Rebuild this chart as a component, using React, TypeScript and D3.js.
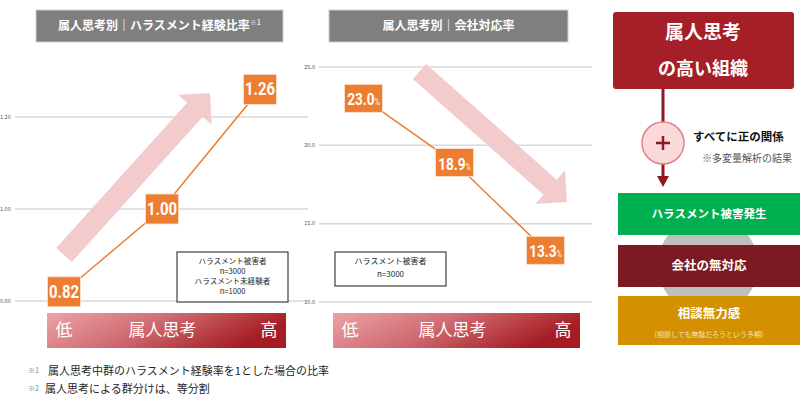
import React from "react";
import * as d3 from "d3";

// chart data
const groups = ["低", "中", "高"];
const ratioValues = [0.82, 1.0, 1.26];
const ratioTicks = [0.8, 1.0, 1.2];
const responseValues = [23.0, 18.9, 13.3];
const responseTicks = [10, 15, 20, 25];

// trend arrows: [category position, value]
const ratioArrow = [[0, 0.9], [1.49, 1.252]];
const responseArrow = [[0.615, 24.71], [2.236, 16.38]];

const ratioNotes = ["ハラスメント被害者", "n=3000", "ハラスメント未経験者", "n=1000"];
const responseNotes = ["ハラスメント被害者", "n=3000"];
const footnotes = [
  ["※1", "属人思考中群のハラスメント経験率を1とした場合の比率"],
  ["※2", "属人思考による群分けは、等分割"],
];
const chainLabels = ["ハラスメント被害発生", "会社の無対応", "相談無力感"];
const chainColors = ["#00b050", "#7b1a20", "#d39000"];

const FONT = "'Noto Sans CJK JP', 'Noto Sans', sans-serif";
const ORANGE = "#ed7d31";
const ARROW = "#f4cbcd";

function arrowPath(x0: number, y0: number, x1: number, y1: number, shaft: number, headW: number, headLen: number) {
  const dx = x1 - x0, dy = y1 - y0, len = Math.hypot(dx, dy);
  const ux = dx / len, uy = dy / len, nx = -uy, ny = ux;
  const bx = x1 - ux * headLen, by = y1 - uy * headLen;
  const pts: [number, number][] = [
    [x0 + (nx * shaft) / 2, y0 + (ny * shaft) / 2],
    [bx + (nx * shaft) / 2, by + (ny * shaft) / 2],
    [bx + (nx * headW) / 2, by + (ny * headW) / 2],
    [x1, y1],
    [bx - (nx * headW) / 2, by - (ny * headW) / 2],
    [bx - (nx * shaft) / 2, by - (ny * shaft) / 2],
    [x0 - (nx * shaft) / 2, y0 - (ny * shaft) / 2],
  ];
  return d3.line()(pts) + "Z";
}

function TitleBar({ x, w, text, sup }: any) {
  return (
    <g>
      <rect x={x} y={10} width={w} height={32} fill="#7f7f7f" stroke="#cfcfcf" strokeWidth={1} />
      <text x={x + w / 2} y={27} textAnchor="middle" dominantBaseline="middle" fill="#fff" fontSize={12} fontWeight="bold" fontFamily={FONT}>
        {text}
        {sup && <tspan fontSize={7} dy={-4} fill="#e6e6e6">{sup}</tspan>}
      </text>
    </g>
  );
}

function GradientBar({ x, w, id }: any) {
  return (
    <g fontFamily={FONT} fill="#fff">
      <rect x={x} y={313} width={w} height={35} fill={`url(#${id})`} />
      <text x={x + 17} y={331} fontSize={17} textAnchor="middle" dominantBaseline="middle">低</text>
      <text x={x + w / 2 - 4} y={331} fontSize={17} textAnchor="middle" dominantBaseline="middle">属人思考</text>
      <text x={x + w - 17} y={331} fontSize={17} textAnchor="middle" dominantBaseline="middle">高</text>
    </g>
  );
}

function NoteBox({ x, y, w, h, lines, fs, lh, pad }: any) {
  return (
    <g>
      <rect x={x} y={y} width={w} height={h} fill="#fff" stroke="#404040" strokeWidth={1.2} />
      {lines.map((t: string, i: number) => (
        <text key={i} x={x + w / 2} y={y + pad + lh * i + lh / 2} textAnchor="middle" dominantBaseline="middle" fontSize={fs} fill="#262626" fontFamily={FONT}>
          {t}
        </text>
      ))}
    </g>
  );
}

export default function App() {
  // left chart scales
  const xL = d3.scaleBand().domain(groups).range([15, 309]);
  const yL = d3.scaleLinear().domain([0.8, 1.2]).range([301, 117]);
  const posL = (i: number) => xL.range()[0] + xL.step() * (i + 0.5);
  // right chart scales
  const xR = d3.scaleBand().domain(groups).range([318, 591]);
  const yR = d3.scaleLinear().domain([10, 25]).range([302, 67]);
  const posR = (i: number) => xR.range()[0] + xR.step() * (i + 0.5);

  const lineL = d3.line<number>().x((_, i) => posL(i)).y((d) => yL(d));
  const lineR = d3.line<number>().x((_, i) => posR(i)).y((d) => yR(d));

  const arrowL = arrowPath(posL(ratioArrow[0][0]), yL(ratioArrow[0][1]), posL(ratioArrow[1][0]), yL(ratioArrow[1][1]), 21, 45, 22.5);
  const arrowR = arrowPath(posR(responseArrow[0][0]), yR(responseArrow[0][1]), posR(responseArrow[1][0]), yR(responseArrow[1][1]), 20, 45, 22.5);

  return (
    <svg width={800} height={400} style={{ position: "absolute", left: 0, top: 0, background: "#fff" }} fontFamily={FONT}>
      <defs>
        <linearGradient id="gradL" x1="0" y1="0" x2="1" y2="0.3">
          <stop offset="0" stopColor="#eba4a8" />
          <stop offset="0.5" stopColor="#cf6a70" />
          <stop offset="1" stopColor="#a51c23" />
        </linearGradient>
        <linearGradient id="gradR" x1="0" y1="0" x2="1" y2="0.3">
          <stop offset="0" stopColor="#eba4a8" />
          <stop offset="0.5" stopColor="#cf6a70" />
          <stop offset="1" stopColor="#a51c23" />
        </linearGradient>
      </defs>

      {/* left chart */}
      <TitleBar x={36} w={247} text="属人思考別｜ハラスメント経験比率" sup="※1" />
      {ratioTicks.map((t) => (
        <g key={t}>
          <line x1={15} x2={308} y1={yL(t)} y2={yL(t)} stroke="#d9d9d9" strokeWidth={1.5} />
          <text x={0} y={yL(t)} dominantBaseline="middle" fontSize={5.5} fill="#595959">{t.toFixed(2)}</text>
        </g>
      ))}
      <path d={arrowL} fill={ARROW} />
      <path d={lineL(ratioValues) || ""} fill="none" stroke={ORANGE} strokeWidth={1.5} />
      {ratioValues.map((v, i) => (
        <g key={i}>
          <rect x={posL(i) - 16.5} y={yL(v) - 15} width={33} height={30} fill={ORANGE} stroke="#fbe3d3" strokeWidth={0.8} />
          <text transform={`translate(${posL(i)},${yL(v) + 1}) scale(0.83,1)`} textAnchor="middle" dominantBaseline="middle" fill="#fff" fontSize={18} fontWeight="bold" fontFamily="Roboto, sans-serif">
            {v.toFixed(2)}
          </text>
        </g>
      ))}
      <NoteBox x={177} y={252} w={111} h={50} lines={ratioNotes} fs={7.6} lh={10} pad={5} />
      <GradientBar x={47} w={239} id="gradL" />

      {/* right chart */}
      <TitleBar x={329} w={239} text="属人思考別｜会社対応率" />
      {responseTicks.map((t) => (
        <g key={t}>
          <line x1={319} x2={592} y1={yR(t)} y2={yR(t)} stroke="#d9d9d9" strokeWidth={1.5} />
          <text x={315} y={yR(t)} textAnchor="end" dominantBaseline="middle" fontSize={5.5} fill="#595959">{t.toFixed(1)}</text>
        </g>
      ))}
      <path d={arrowR} fill={ARROW} />
      <path d={lineR(responseValues) || ""} fill="none" stroke={ORANGE} strokeWidth={1.5} />
      {responseValues.map((v, i) => (
        <g key={i}>
          <rect x={posR(i) - 19} y={yR(v) - 14} width={38} height={28} fill={ORANGE} stroke="#fbe3d3" strokeWidth={0.8} />
          <text transform={`translate(${posR(i)},${yR(v) + 7}) scale(0.8,1)`} textAnchor="middle" fill="#fff" fontSize={17} fontWeight="bold" fontFamily="Roboto, sans-serif">
            {v.toFixed(1)}
            <tspan fontSize={9} fontWeight="normal">%</tspan>
          </text>
        </g>
      ))}
      <NoteBox x={335} y={252} w={111} h={34} lines={responseNotes} fs={8} lh={12.5} pad={4} />
      <GradientBar x={333} w={247} id="gradR" />

      {/* footnotes */}
      {footnotes.map(([mark, text], i) => (
        <g key={i}>
          <text x={28} y={371 + i * 18} fontSize={7} fill="#7f7f7f" dominantBaseline="middle">{mark}</text>
          <text x={i === 0 ? 48 : 45} y={372 + i * 18} fontSize={11} fill="#262626" dominantBaseline="middle">{text}</text>
        </g>
      ))}

      {/* right panel */}
      <rect x={613} y={12} width={181} height={77} rx={3} fill="#a51f28" />
      <text x={703} y={34} textAnchor="middle" dominantBaseline="middle" fill="#fff" fontSize={19} fontWeight="bold">属人思考</text>
      <text x={703} y={70} textAnchor="middle" dominantBaseline="middle" fill="#fff" fontSize={18} fontWeight="bold">の高い組織</text>
      <line x1={663} x2={663} y1={89} y2={178} stroke="#8b1a22" strokeWidth={3} />
      <path d="M657,176 L669,176 L663,187 Z" fill="#8b1a22" />
      <circle cx={663} cy={143} r={21} fill="#f9d9da" stroke="#e0828a" strokeWidth={1.5} />
      <path d="M656,143 H670 M663,136 V150" stroke="#8b1a22" strokeWidth={2.5} />
      <text x={693} y={138} dominantBaseline="middle" fill="#111" fontSize={11.5} fontWeight="bold">すべてに正の関係</text>
      <text x={702} y={159} dominantBaseline="middle" fill="#555" fontSize={10}>※多変量解析の結果</text>

      <circle cx={708} cy={265} r={50} fill="#bfbfbf" />
      {chainLabels.map((t, i) => {
        const y0 = [193, 245, 296][i];
        const h = [42, 42, 49][i];
        return (
          <g key={t}>
            <rect x={618} y={y0} width={182} height={h} fill={chainColors[i]} />
            <text x={709} y={i === 2 ? 315 : y0 + h / 2 + 1} textAnchor="middle" dominantBaseline="middle" fill="#fff" fontSize={i === 0 ? 11.5 : 12.5} fontWeight="bold">
              {t}
            </text>
          </g>
        );
      })}
      <text x={709} y={335} textAnchor="middle" dominantBaseline="middle" fill="#f6e3bd" fontSize={7}>(相談しても無駄だろうという予期)</text>
    </svg>
  );
}
